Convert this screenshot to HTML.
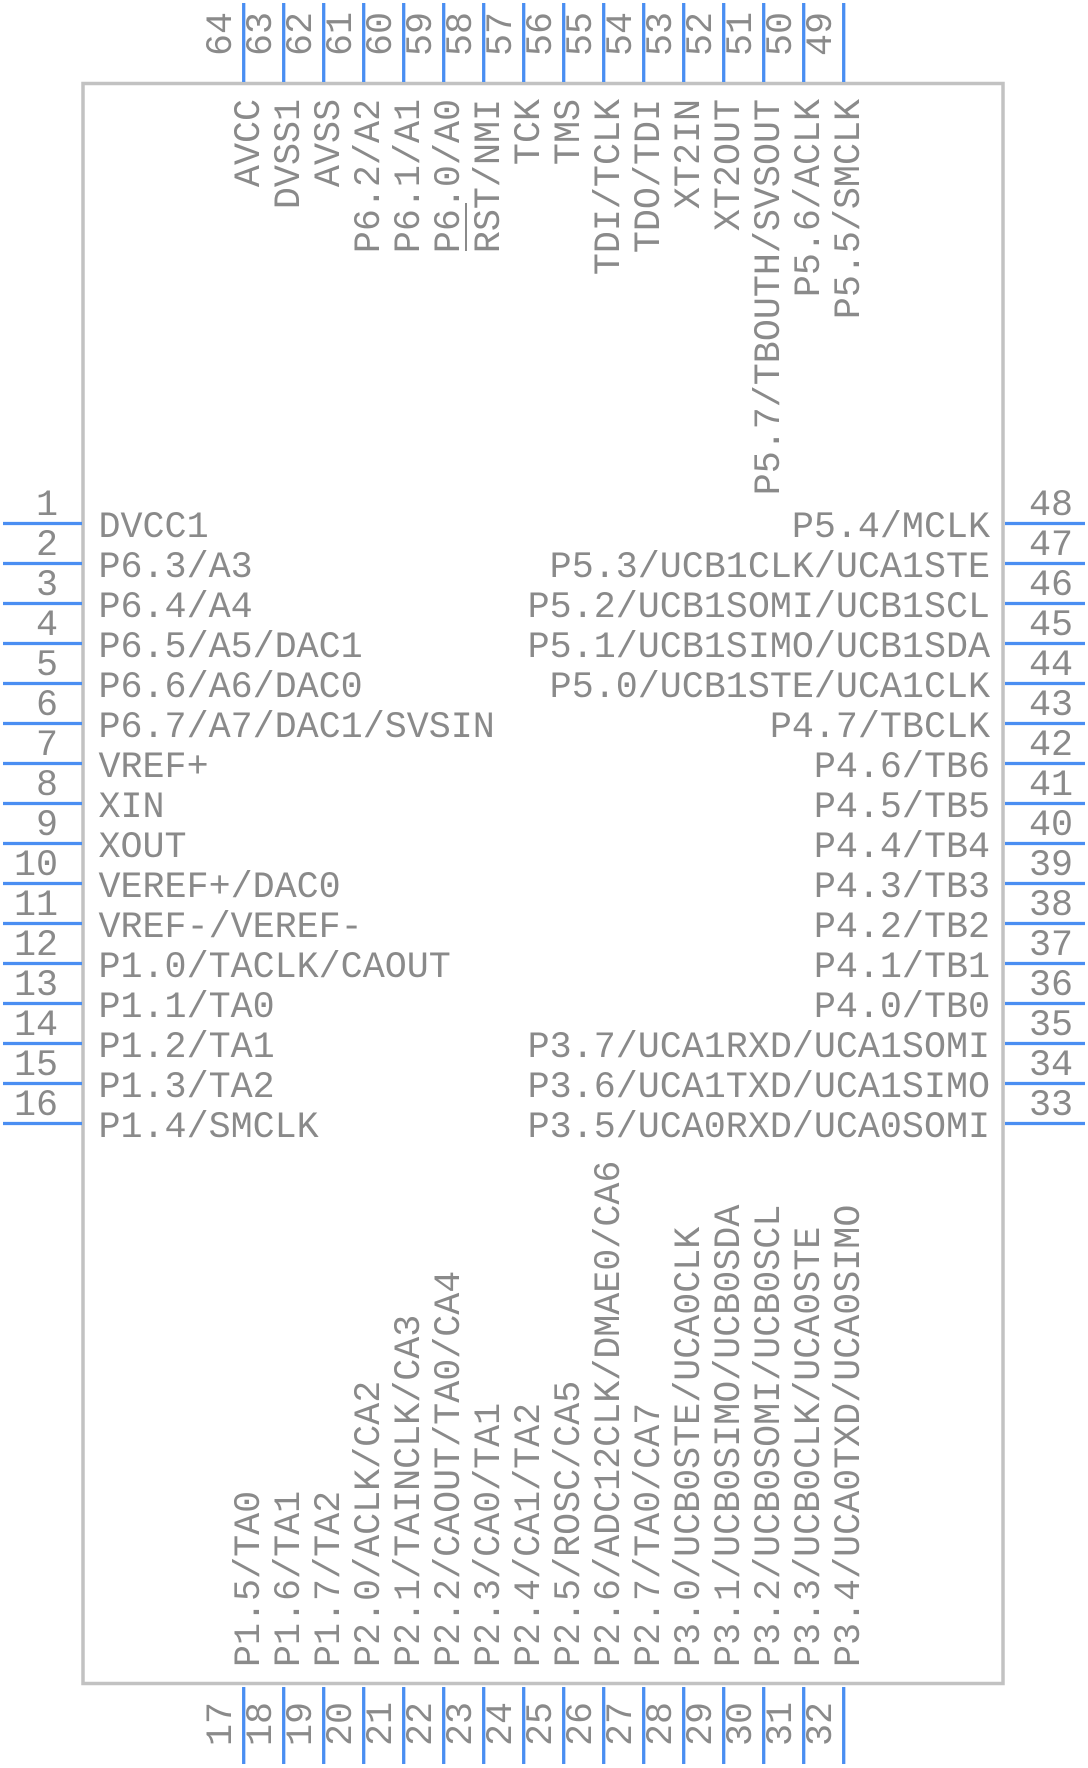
<!DOCTYPE html>
<html><head><meta charset="utf-8"><style>
html,body{margin:0;padding:0;background:#fff;}
svg{display:block;}
text{font-family:"Liberation Mono",monospace;font-size:36.7px;fill:#8a8a8a;}
</style></head><body>
<svg width="1088" height="1768" viewBox="0 0 1088 1768" xmlns="http://www.w3.org/2000/svg">
<rect x="83" y="83.5" width="920" height="1600" fill="none" stroke="#c2c2c2" stroke-width="3.5"/>
<g stroke="#4a8ef2" stroke-width="3.3">
<line x1="3" y1="523.5" x2="82" y2="523.5"/><line x1="3" y1="563.5" x2="82" y2="563.5"/><line x1="3" y1="603.5" x2="82" y2="603.5"/><line x1="3" y1="643.5" x2="82" y2="643.5"/>
<line x1="3" y1="683.5" x2="82" y2="683.5"/><line x1="3" y1="723.5" x2="82" y2="723.5"/><line x1="3" y1="763.5" x2="82" y2="763.5"/><line x1="3" y1="803.5" x2="82" y2="803.5"/>
<line x1="3" y1="843.5" x2="82" y2="843.5"/><line x1="3" y1="883.5" x2="82" y2="883.5"/><line x1="3" y1="923.5" x2="82" y2="923.5"/><line x1="3" y1="963.5" x2="82" y2="963.5"/>
<line x1="3" y1="1003.5" x2="82" y2="1003.5"/><line x1="3" y1="1043.5" x2="82" y2="1043.5"/><line x1="3" y1="1083.5" x2="82" y2="1083.5"/><line x1="3" y1="1123.5" x2="82" y2="1123.5"/>
<line x1="1005" y1="523.5" x2="1085" y2="523.5"/><line x1="1005" y1="563.5" x2="1085" y2="563.5"/><line x1="1005" y1="603.5" x2="1085" y2="603.5"/><line x1="1005" y1="643.5" x2="1085" y2="643.5"/>
<line x1="1005" y1="683.5" x2="1085" y2="683.5"/><line x1="1005" y1="723.5" x2="1085" y2="723.5"/><line x1="1005" y1="763.5" x2="1085" y2="763.5"/><line x1="1005" y1="803.5" x2="1085" y2="803.5"/>
<line x1="1005" y1="843.5" x2="1085" y2="843.5"/><line x1="1005" y1="883.5" x2="1085" y2="883.5"/><line x1="1005" y1="923.5" x2="1085" y2="923.5"/><line x1="1005" y1="963.5" x2="1085" y2="963.5"/>
<line x1="1005" y1="1003.5" x2="1085" y2="1003.5"/><line x1="1005" y1="1043.5" x2="1085" y2="1043.5"/><line x1="1005" y1="1083.5" x2="1085" y2="1083.5"/><line x1="1005" y1="1123.5" x2="1085" y2="1123.5"/>
<line x1="243.7" y1="3" x2="243.7" y2="82"/><line x1="283.7" y1="3" x2="283.7" y2="82"/><line x1="323.7" y1="3" x2="323.7" y2="82"/><line x1="363.7" y1="3" x2="363.7" y2="82"/>
<line x1="403.7" y1="3" x2="403.7" y2="82"/><line x1="443.7" y1="3" x2="443.7" y2="82"/><line x1="483.7" y1="3" x2="483.7" y2="82"/><line x1="523.7" y1="3" x2="523.7" y2="82"/>
<line x1="563.7" y1="3" x2="563.7" y2="82"/><line x1="603.7" y1="3" x2="603.7" y2="82"/><line x1="643.7" y1="3" x2="643.7" y2="82"/><line x1="683.7" y1="3" x2="683.7" y2="82"/>
<line x1="723.7" y1="3" x2="723.7" y2="82"/><line x1="763.7" y1="3" x2="763.7" y2="82"/><line x1="803.7" y1="3" x2="803.7" y2="82"/><line x1="843.7" y1="3" x2="843.7" y2="82"/>
<line x1="243.7" y1="1687" x2="243.7" y2="1764"/><line x1="283.7" y1="1687" x2="283.7" y2="1764"/><line x1="323.7" y1="1687" x2="323.7" y2="1764"/><line x1="363.7" y1="1687" x2="363.7" y2="1764"/>
<line x1="403.7" y1="1687" x2="403.7" y2="1764"/><line x1="443.7" y1="1687" x2="443.7" y2="1764"/><line x1="483.7" y1="1687" x2="483.7" y2="1764"/><line x1="523.7" y1="1687" x2="523.7" y2="1764"/>
<line x1="563.7" y1="1687" x2="563.7" y2="1764"/><line x1="603.7" y1="1687" x2="603.7" y2="1764"/><line x1="643.7" y1="1687" x2="643.7" y2="1764"/><line x1="683.7" y1="1687" x2="683.7" y2="1764"/>
<line x1="723.7" y1="1687" x2="723.7" y2="1764"/><line x1="763.7" y1="1687" x2="763.7" y2="1764"/><line x1="803.7" y1="1687" x2="803.7" y2="1764"/><line x1="843.7" y1="1687" x2="843.7" y2="1764"/>
</g>
<g text-anchor="end">
<text x="58" y="515">1</text><text x="58" y="555">2</text><text x="58" y="595">3</text><text x="58" y="635">4</text>
<text x="58" y="675">5</text><text x="58" y="715">6</text><text x="58" y="755">7</text><text x="58" y="795">8</text>
<text x="58" y="835">9</text><text x="58" y="875">10</text><text x="58" y="915">11</text><text x="58" y="955">12</text>
<text x="58" y="995">13</text><text x="58" y="1035">14</text><text x="58" y="1075">15</text><text x="58" y="1115">16</text>
</g>
<g>
<text x="98.5" y="537">DVCC1</text><text x="98.5" y="577">P6.3/A3</text><text x="98.5" y="617">P6.4/A4</text><text x="98.5" y="657">P6.5/A5/DAC1</text>
<text x="98.5" y="697">P6.6/A6/DAC0</text><text x="98.5" y="737">P6.7/A7/DAC1/SVSIN</text><text x="98.5" y="777">VREF+</text><text x="98.5" y="817">XIN</text>
<text x="98.5" y="857">XOUT</text><text x="98.5" y="897">VEREF+/DAC0</text><text x="98.5" y="937">VREF-/VEREF-</text><text x="98.5" y="977">P1.0/TACLK/CAOUT</text>
<text x="98.5" y="1017">P1.1/TA0</text><text x="98.5" y="1057">P1.2/TA1</text><text x="98.5" y="1097">P1.3/TA2</text><text x="98.5" y="1137">P1.4/SMCLK</text>
</g>
<g>
<text x="1029" y="515">48</text><text x="1029" y="555">47</text><text x="1029" y="595">46</text><text x="1029" y="635">45</text>
<text x="1029" y="675">44</text><text x="1029" y="715">43</text><text x="1029" y="755">42</text><text x="1029" y="795">41</text>
<text x="1029" y="835">40</text><text x="1029" y="875">39</text><text x="1029" y="915">38</text><text x="1029" y="955">37</text>
<text x="1029" y="995">36</text><text x="1029" y="1035">35</text><text x="1029" y="1075">34</text><text x="1029" y="1115">33</text>
</g>
<g text-anchor="end">
<text x="990" y="537">P5.4/MCLK</text><text x="990" y="577">P5.3/UCB1CLK/UCA1STE</text><text x="990" y="617">P5.2/UCB1SOMI/UCB1SCL</text><text x="990" y="657">P5.1/UCB1SIMO/UCB1SDA</text>
<text x="990" y="697">P5.0/UCB1STE/UCA1CLK</text><text x="990" y="737">P4.7/TBCLK</text><text x="990" y="777">P4.6/TB6</text><text x="990" y="817">P4.5/TB5</text>
<text x="990" y="857">P4.4/TB4</text><text x="990" y="897">P4.3/TB3</text><text x="990" y="937">P4.2/TB2</text><text x="990" y="977">P4.1/TB1</text>
<text x="990" y="1017">P4.0/TB0</text><text x="990" y="1057">P3.7/UCA1RXD/UCA1SOMI</text><text x="990" y="1097">P3.6/UCA1TXD/UCA1SIMO</text><text x="990" y="1137">P3.5/UCA0RXD/UCA0SOMI</text>
</g>
<g>
<text transform="translate(231,56) rotate(-90)">64</text><text transform="translate(271,56) rotate(-90)">63</text><text transform="translate(311,56) rotate(-90)">62</text><text transform="translate(351,56) rotate(-90)">61</text>
<text transform="translate(391,56) rotate(-90)">60</text><text transform="translate(431,56) rotate(-90)">59</text><text transform="translate(471,56) rotate(-90)">58</text><text transform="translate(511,56) rotate(-90)">57</text>
<text transform="translate(551,56) rotate(-90)">56</text><text transform="translate(591,56) rotate(-90)">55</text><text transform="translate(631,56) rotate(-90)">54</text><text transform="translate(671,56) rotate(-90)">53</text>
<text transform="translate(711,56) rotate(-90)">52</text><text transform="translate(751,56) rotate(-90)">51</text><text transform="translate(791,56) rotate(-90)">50</text><text transform="translate(831,56) rotate(-90)">49</text>
</g>
<g text-anchor="end">
<text transform="translate(259,99) rotate(-90)">AVCC</text><text transform="translate(299,99) rotate(-90)">DVSS1</text><text transform="translate(339,99) rotate(-90)">AVSS</text><text transform="translate(379,99) rotate(-90)">P6.2/A2</text>
<text transform="translate(419,99) rotate(-90)">P6.1/A1</text><text transform="translate(459,99) rotate(-90)">P6.0/A0</text><text transform="translate(499,99) rotate(-90)">RST/NMI</text><text transform="translate(539,99) rotate(-90)">TCK</text>
<text transform="translate(579,99) rotate(-90)">TMS</text><text transform="translate(619,99) rotate(-90)">TDI/TCLK</text><text transform="translate(659,99) rotate(-90)">TDO/TDI</text><text transform="translate(699,99) rotate(-90)">XT2IN</text>
<text transform="translate(739,99) rotate(-90)">XT2OUT</text><text transform="translate(779,99) rotate(-90)">P5.7/TBOUTH/SVSOUT</text><text transform="translate(819,99) rotate(-90)">P5.6/ACLK</text><text transform="translate(859,99) rotate(-90)">P5.5/SMCLK</text>
</g>
<line x1="466" y1="203" x2="466" y2="251" stroke="#8a8a8a" stroke-width="2"/>
<g>
<text transform="translate(259,1667) rotate(-90)">P1.5/TA0</text><text transform="translate(299,1667) rotate(-90)">P1.6/TA1</text><text transform="translate(339,1667) rotate(-90)">P1.7/TA2</text><text transform="translate(379,1667) rotate(-90)">P2.0/ACLK/CA2</text>
<text transform="translate(419,1667) rotate(-90)">P2.1/TAINCLK/CA3</text><text transform="translate(459,1667) rotate(-90)">P2.2/CAOUT/TA0/CA4</text><text transform="translate(499,1667) rotate(-90)">P2.3/CA0/TA1</text><text transform="translate(539,1667) rotate(-90)">P2.4/CA1/TA2</text>
<text transform="translate(579,1667) rotate(-90)">P2.5/ROSC/CA5</text><text transform="translate(619,1667) rotate(-90)">P2.6/ADC12CLK/DMAE0/CA6</text><text transform="translate(659,1667) rotate(-90)">P2.7/TA0/CA7</text><text transform="translate(699,1667) rotate(-90)">P3.0/UCB0STE/UCA0CLK</text>
<text transform="translate(739,1667) rotate(-90)">P3.1/UCB0SIMO/UCB0SDA</text><text transform="translate(779,1667) rotate(-90)">P3.2/UCB0SOMI/UCB0SCL</text><text transform="translate(819,1667) rotate(-90)">P3.3/UCB0CLK/UCA0STE</text><text transform="translate(859,1667) rotate(-90)">P3.4/UCA0TXD/UCA0SIMO</text>
</g>
<g>
<text transform="translate(231,1746) rotate(-90)">17</text><text transform="translate(271,1746) rotate(-90)">18</text><text transform="translate(311,1746) rotate(-90)">19</text><text transform="translate(351,1746) rotate(-90)">20</text>
<text transform="translate(391,1746) rotate(-90)">21</text><text transform="translate(431,1746) rotate(-90)">22</text><text transform="translate(471,1746) rotate(-90)">23</text><text transform="translate(511,1746) rotate(-90)">24</text>
<text transform="translate(551,1746) rotate(-90)">25</text><text transform="translate(591,1746) rotate(-90)">26</text><text transform="translate(631,1746) rotate(-90)">27</text><text transform="translate(671,1746) rotate(-90)">28</text>
<text transform="translate(711,1746) rotate(-90)">29</text><text transform="translate(751,1746) rotate(-90)">30</text><text transform="translate(791,1746) rotate(-90)">31</text><text transform="translate(831,1746) rotate(-90)">32</text>
</g>
</svg>
</body></html>
